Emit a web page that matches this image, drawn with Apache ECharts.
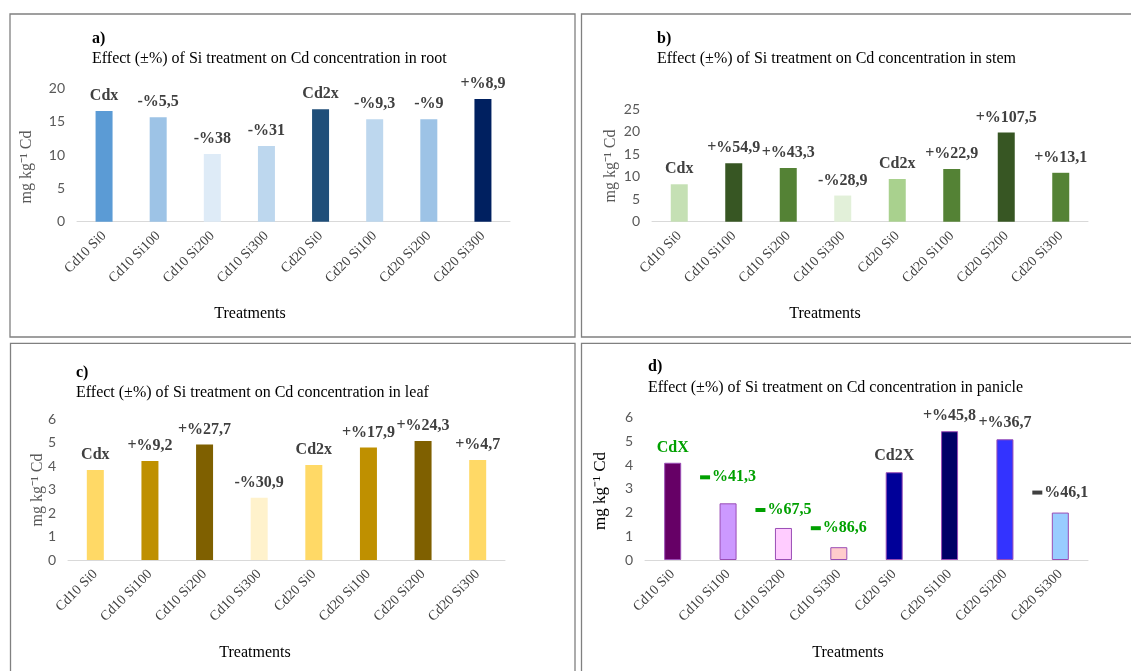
<!DOCTYPE html>
<html>
<head>
<meta charset="utf-8">
<script src="https://cdn.jsdelivr.net/npm/echarts@6/dist/echarts.min.js"></script>
<style>html,body{margin:0;padding:0;background:#fff}#c{width:1131px;height:671px}</style>
</head>
<body>
<div id="c"></div>
<script>
const categories = ['Cd10 Si0','Cd10 Si100','Cd10 Si200','Cd10 Si300','Cd20 Si0','Cd20 Si100','Cd20 Si200','Cd20 Si300'];

const rootValues = [16.6, 15.65, 10.15, 11.35, 16.85, 15.35, 15.35, 18.4];
const stemValues = [8.3, 12.95, 11.9, 5.8, 9.47, 11.7, 19.8, 10.85];
const leafValues = [3.83, 4.21, 4.92, 2.65, 4.04, 4.79, 5.06, 4.26];
const panicleValues = [4.1, 2.39, 1.35, 0.54, 3.7, 5.43, 5.09, 2.0];

const rootLabels = ['Cdx','-%5,5','-%38','-%31','Cd2x','-%9,3','-%9','+%8,9'];
const stemLabels = ['Cdx','+%54,9','+%43,3','-%28,9','Cd2x','+%22,9','+%107,5','+%13,1'];
const leafLabels = ['Cdx','+%9,2','+%27,7','-%30,9','Cd2x','+%17,9','+%24,3','+%4,7'];
// '▬' marks the heavy minus sign used in panel d
const panicleLabels = ['CdX','▬%41,3','▬%67,5','▬%86,6','Cd2X','+%45,8','+%36,7','▬%46,1'];

const rootTicks = [0, 5, 10, 15, 20];
const stemTicks = [0, 5, 10, 15, 20, 25];
const leafTicks = [0, 1, 2, 3, 4, 5, 6];
const panicleTicks = [0, 1, 2, 3, 4, 5, 6];

const titles = [
  'Effect (±%) of Si treatment on Cd concentration in root',
  'Effect (±%) of Si treatment on Cd concentration in stem',
  'Effect (±%) of Si treatment on Cd concentration in leaf',
  'Effect (±%) of Si treatment on Cd concentration in panicle'
];

// styles (kept separate from data)
const rootColors = ['#5B9BD5','#9DC3E6','#DEEBF7','#BDD7EE','#1F4E79','#BDD7EE','#9DC3E6','#002060'];
const stemColors = ['#C5E0B4','#375623','#548235','#E2F0D9','#A9D18E','#548235','#375623','#548235'];
const leafColors = ['#FFD966','#BF9000','#7F6000','#FFF2CC','#FFD966','#BF9000','#7F6000','#FFD966'];
const panicleColors = ['#660066','#CC99FF','#FFCCFF','#FFCCCC','#000099','#000066','#3333FF','#99CCFF'];
const panicleLabelColors = ['#00A000','#00A000','#00A000','#00A000','#404040','#404040','#404040','#404040'];
const panicleLabelGap = [7, 18, 10, 11, 8, 7, 8, 12];

const SERIF = '"Liberation Serif", "Times New Roman", serif';
const SANS = 'Lato, "Open Sans", sans-serif';

const grids = [
  {left: 77, top: 88.3, width: 433, height: 133.4},
  {left: 652, top: 109, width: 436, height: 112.7},
  {left: 68, top: 419, width: 437, height: 141},
  {left: 645, top: 417.7, width: 443, height: 142.3}
];

function xAxis(i) {
  return {
    type: 'category', gridIndex: i, data: categories,
    axisLine: {lineStyle: {color: '#D9D9D9', width: 1}},
    axisTick: {show: false},
    axisLabel: {rotate: 45, fontFamily: SERIF, fontSize: 14, color: '#404040', margin: 12, interval: 0}
  };
}
function yAxis(i, ticks) {
  return {
    type: 'value', gridIndex: i, min: ticks[0], max: ticks[ticks.length - 1],
    interval: ticks[1] - ticks[0],
    splitLine: {show: false}, axisLine: {show: false}, axisTick: {show: false},
    axisLabel: {fontFamily: SANS, fontSize: 14, color: '#595959', margin: 12}
  };
}
function series(i, values, colors, labels, opts) {
  opts = opts || {};
  return {
    type: 'bar', xAxisIndex: i, yAxisIndex: i, barWidth: 17,
    data: values.map((v, k) => {
      const item = {value: v, itemStyle: {color: colors[k]}};
      if (opts.border) { item.itemStyle.borderColor = '#9A4DB5'; item.itemStyle.borderWidth = 1; }
      const lab = {formatter: labels[k]};
      const col = opts.labelColors ? opts.labelColors[k] : '#404040';
      lab.color = col;
      if (opts.gaps) lab.distance = opts.gaps[k];
      if (labels[k].charAt(0) === '▬') {
        lab.formatter = '{d| }{t|' + labels[k].slice(1) + '}';
        lab.rich = {
          d: {backgroundColor: col, width: 10, height: 4, fontSize: 4, lineHeight: 4, padding: 0, verticalAlign: 'middle'},
          t: {fontFamily: SERIF, fontSize: 16, fontWeight: 'bold', color: col, lineHeight: 16, padding: [6, 0, 0, 2], verticalAlign: 'bottom'}
        };
      }
      item.label = lab;
      return item;
    }),
    label: {
      show: true, position: 'top', distance: 7,
      fontFamily: SERIF, fontSize: 16, fontWeight: 'bold', color: '#404040'
    }
  };
}

function txt(x, y, text, extra) {
  return {
    type: 'text', x: x, y: y, silent: true,
    style: Object.assign({text: text, fill: '#000', font: '16px ' + SERIF, align: 'left', verticalAlign: 'middle'}, extra || {})
  };
}
function rotTxt(x, y, text, extra) {
  return {
    type: 'text', x: x, y: y, rotation: Math.PI / 2, silent: true,
    style: Object.assign({text: text, fill: '#595959', font: '16px ' + SERIF, align: 'center', verticalAlign: 'middle'}, extra || {})
  };
}
function box(x, y, w, h) {
  return {type: 'rect', shape: {x: x, y: y, width: w, height: h}, silent: true,
    style: {fill: 'none', stroke: '#808080', lineWidth: 1.3}};
}

const chart = echarts.init(document.getElementById('c'), null, {renderer: 'canvas'});
chart.setOption({
  animation: false,
  backgroundColor: '#fff',
  grid: grids,
  xAxis: [xAxis(0), xAxis(1), xAxis(2), xAxis(3)],
  yAxis: [yAxis(0, rootTicks), yAxis(1, stemTicks), yAxis(2, leafTicks), yAxis(3, panicleTicks)],
  series: [
    series(0, rootValues, rootColors, rootLabels),
    series(1, stemValues, stemColors, stemLabels),
    series(2, leafValues, leafColors, leafLabels),
    series(3, panicleValues, panicleColors, panicleLabels, {border: true, labelColors: panicleLabelColors, gaps: panicleLabelGap})
  ],
  graphic: [
    box(10, 14, 565, 323),
    box(581.5, 14, 600, 323),
    box(10.5, 343.3, 564.5, 400),
    box(581.5, 343.3, 600, 400),
    txt(92, 39, 'a)', {font: 'bold 16px ' + SERIF}),
    txt(92, 59, titles[0]),
    txt(657, 39, 'b)', {font: 'bold 16px ' + SERIF}),
    txt(657, 59, titles[1]),
    txt(76, 373, 'c)', {font: 'bold 16px ' + SERIF}),
    txt(76, 393, titles[2]),
    txt(648, 367, 'd)', {font: 'bold 16px ' + SERIF}),
    txt(648, 388, titles[3]),
    rotTxt(27, 167, 'mg kg⁻¹ Cd'),
    rotTxt(611, 166, 'mg kg⁻¹ Cd'),
    rotTxt(38, 490, 'mg kg⁻¹ Cd'),
    rotTxt(601, 491, 'mg kg⁻¹ Cd', {fill: '#000', font: '17px ' + SERIF}),
    txt(250, 314, 'Treatments', {align: 'center'}),
    txt(825, 314, 'Treatments', {align: 'center'}),
    txt(255, 653, 'Treatments', {align: 'center'}),
    txt(848, 653, 'Treatments', {align: 'center'})
  ]
});
</script>
</body>
</html>
